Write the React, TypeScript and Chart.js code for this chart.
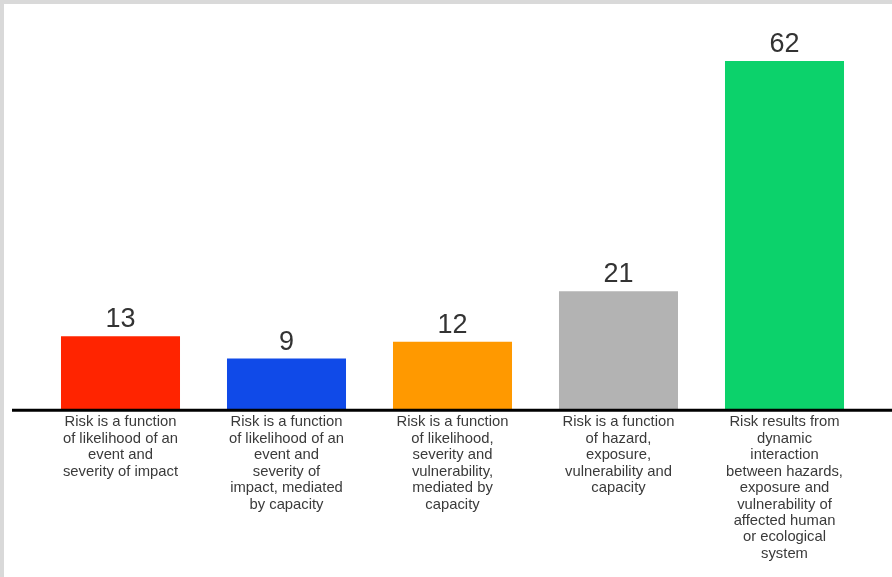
import React, { useEffect, useRef } from "react";
import { Chart, registerables } from "chart.js";

Chart.register(...registerables);

const categories: string[][] = [
  ["Risk is a function", "of likelihood of an", "event and", "severity of impact"],
  ["Risk is a function", "of likelihood of an", "event and", "severity of", "impact, mediated", "by capacity"],
  ["Risk is a function", "of likelihood,", "severity and", "vulnerability,", "mediated by", "capacity"],
  ["Risk is a function", "of hazard,", "exposure,", "vulnerability and", "capacity"],
  ["Risk results from", "dynamic", "interaction", "between hazards,", "exposure and", "vulnerability of", "affected human", "or ecological", "system"],
];
const values: number[] = [13, 9, 12, 21, 62];
const barColors: string[] = ["#ff2400", "#104ae8", "#ff9900", "#b3b3b3", "#0cd26b"];

const valueLabels = {
  id: "valueLabels",
  afterDatasetsDraw(chart: any) {
    const ctx = chart.ctx;
    const meta = chart.getDatasetMeta(0);
    ctx.save();
    ctx.font = "27px 'Liberation Sans', Arial, sans-serif";
    ctx.fillStyle = "#333333";
    ctx.textAlign = "center";
    ctx.textBaseline = "alphabetic";
    meta.data.forEach((el: any, i: number) => {
      ctx.fillText(String(values[i]), el.x, el.y - 9);
    });
    ctx.restore();
  },
};

const baseLine = {
  id: "baseLine",
  afterDatasetsDraw(chart: any) {
    const ctx = chart.ctx;
    const y = chart.scales.y.getPixelForValue(0);
    ctx.save();
    ctx.strokeStyle = "#000000";
    ctx.lineWidth = 3;
    ctx.beginPath();
    ctx.moveTo(chart.chartArea.left - 25.5, y + 1);
    ctx.lineTo(chart.width, y + 1);
    ctx.stroke();
    ctx.restore();
  },
};

export default function App() {
  const ref = useRef<HTMLCanvasElement>(null);
  useEffect(() => {
    document.body.style.margin = "0";
    const chart = new Chart(ref.current!, {
      type: "bar",
      data: {
        labels: categories,
        datasets: [
          {
            data: values,
            backgroundColor: barColors,
            borderWidth: 0,
            barPercentage: 0.717,
            categoryPercentage: 1,
          },
        ],
      },
      options: {
        animation: false,
        responsive: false,
        maintainAspectRatio: false,
        layout: { padding: { left: 33.5, right: 24.5, top: 12, bottom: 10 } },
        plugins: { legend: { display: false }, tooltip: { enabled: false } },
        scales: {
          x: {
            grid: { display: false, drawTicks: false },
            border: { display: false },
            ticks: {
              color: "#3a3a3a",
              padding: 5,
              maxRotation: 0,
              autoSkip: false,
              font: { family: "'Liberation Sans', Arial, sans-serif", size: 14.8, lineHeight: 1.11 },
            },
          },
          y: {
            display: false,
            min: 0,
            max: 70,
          },
        },
      },
      plugins: [valueLabels, baseLine],
    });
    return () => chart.destroy();
  }, []);
  return (
    <div style={{ position: "absolute", left: 0, top: 0, width: 892, height: 577, background: "#d9d9d9" }}>
      <div style={{ position: "absolute", left: 4, top: 4, width: 888, height: 573, background: "#ffffff" }}>
        <canvas ref={ref} width={888} height={573} style={{ display: "block" }} />
      </div>
    </div>
  );
}
